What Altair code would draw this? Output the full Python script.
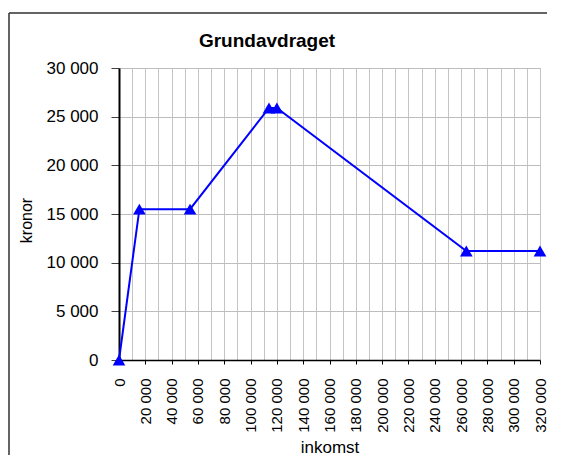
import altair as alt
import pandas as pd

# data
inkomst = [0, 15500, 54000, 114000, 120000, 264000, 320000]
kronor = [0, 15500, 15500, 25900, 25900, 11200, 11200]

chart_title = "Grundavdraget"
x_title = "inkomst"
y_title = "kronor"
x_ticks = list(range(0, 320001, 10000))
y_ticks = [0, 5000, 10000, 15000, 20000, 25000, 30000]

df = pd.DataFrame({"inkomst": inkomst, "kronor": kronor})
FONT = "Liberation Sans"

x_enc = alt.X(
    "inkomst:Q",
    scale=alt.Scale(domain=[0, 320000], nice=False, zero=True),
    axis=alt.Axis(
        values=x_ticks,
        tickCount=100,
        grid=True,
        gridColor="#c4c4c4",
        gridWidth=1,
        domainColor="black",
        domainWidth=1.5,
        tickColor="black",
        tickSize=4,
        tickOpacity={"condition": {"test": "datum.value % 20000 === 0", "value": 1}, "value": 0},
        labelExpr="datum.value % 20000 === 0 ? replace(format(datum.value, ',d'), ',', ' ') : ''",
        labelAngle=270,
        labelAlign="right",
        labelBaseline="middle",
        labelPadding=14,
        labelFontSize=15,
        labelFont=FONT,
        labelColor="black",
        labelOverlap=False,
        labelFlush=False,
        title=x_title,
        titleFont=FONT,
        titleFontSize=17,
        titleFontWeight="normal",
        titleColor="black",
        titleY=92,
        titleBaseline="alphabetic",
    ),
)

y_enc = alt.Y(
    "kronor:Q",
    scale=alt.Scale(domain=[0, 30000], nice=False, zero=True),
    axis=alt.Axis(
        values=y_ticks,
        tickCount=20,
        grid=True,
        gridColor="#bdbdbd",
        gridWidth=1,
        domainColor="black",
        domainWidth=2,
        tickColor="#404040",
        tickSize=8,
        labelExpr="replace(format(datum.value, ',d'), ',', ' ')",
        labelPadding=13,
        labelFontSize=17,
        labelFont=FONT,
        labelColor="black",
        labelBaseline="middle",
        title=y_title,
        titleFont=FONT,
        titleFontSize=16,
        titleFontWeight="normal",
        titleColor="black",
        titleX=-93,
        titleY=152,
        titleAlign="center",
        titleBaseline="middle",
    ),
)

base = alt.Chart(df)

line = base.mark_line(color="#0000ff", strokeWidth=2).encode(x=x_enc, y=y_enc)
points = base.mark_point(
    shape="triangle-up", filled=True, color="#0000ff", size=160, opacity=1
).encode(x="inkomst:Q", y="kronor:Q")

one = pd.DataFrame({"f": [1]})
frame_left = alt.Chart(one).mark_rule(color="#303030", strokeWidth=1.5).encode(
    x=alt.value(-110), y=alt.value(-55), y2=alt.value(520)
)
frame_top = alt.Chart(one).mark_rule(color="#303030", strokeWidth=1.5).encode(
    x=alt.value(-110), x2=alt.value(560), y=alt.value(-55)
)

title = alt.Chart(pd.DataFrame({"t": [chart_title]})).mark_text(
    font=FONT, fontSize=19, fontWeight="bold", align="center", baseline="alphabetic", color="black"
).encode(text="t:N", x=alt.value(148), y=alt.value(-21))

chart = alt.layer(frame_left, frame_top, line, points, title).properties(
    width=421,
    height=292,
    autosize=alt.AutoSizeParams(type="none"),
    padding={"left": 111, "top": 60, "right": 7, "bottom": 95},
).configure_view(stroke="#808080", strokeWidth=1).configure(font=FONT)

chart.save("out.html", embed_options={"renderer": "svg", "actions": False})
